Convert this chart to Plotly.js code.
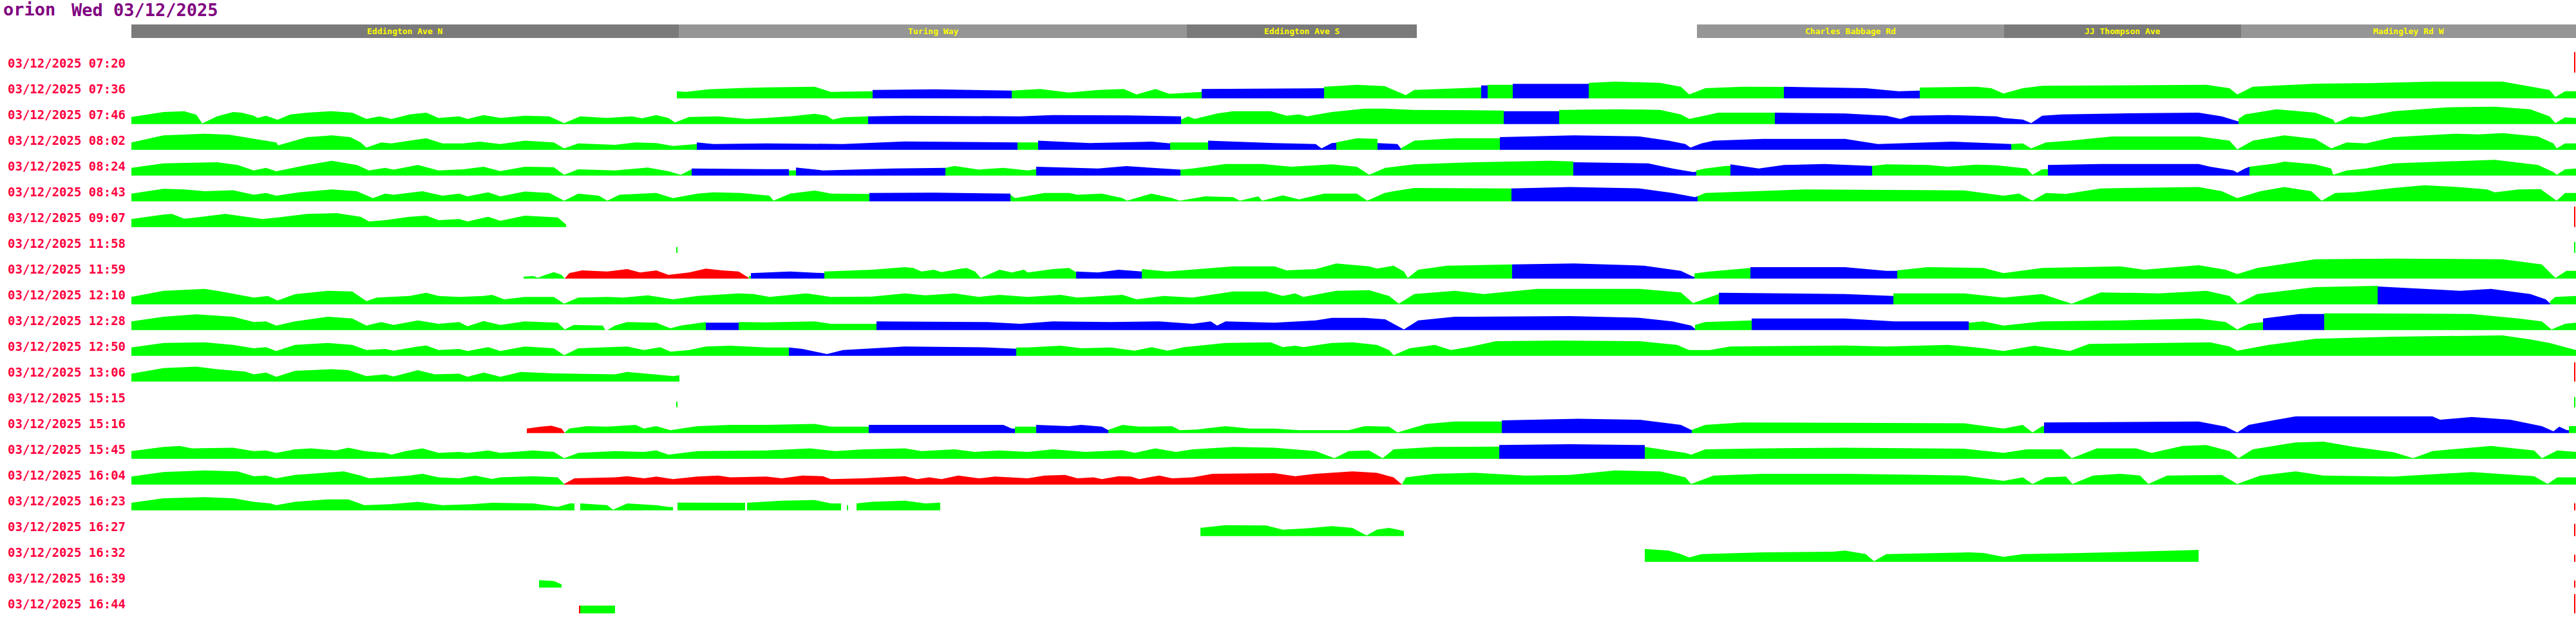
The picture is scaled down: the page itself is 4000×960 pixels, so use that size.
<!DOCTYPE html>
<html><head><meta charset="utf-8">
<script src="https://cdn.plot.ly/plotly-3.0.1.min.js"></script>
<style>html,body{margin:0;padding:0;background:#fff}</style>
</head><body><div id="chart"></div>
<script>
// ---- DATA ----
const titleHost = 'orion';
const titleDate = 'Wed 03/12/2025';
const rowTimes = ['07:20','07:36','07:46','08:02','08:24','08:43','09:07','11:58','11:59','12:10','12:28','12:50','13:06','15:15','15:16','15:45','16:04','16:23','16:27','16:32','16:39','16:44'];
const rowDate = '03/12/2025';

const streetNames = ['Eddington Ave N','Turing Way','Eddington Ave S','Charles Babbage Rd','JJ Thompson Ave','Madingley Rd W'];
const streetStart = [204,1054,1843,2635,3112,3480];
const streetEnd   = [1054,1843,2200,3112,3480,4000];

// each row: runs of [colour code, [position, height, position, height, ...]]
const row0720 = [];
const row0736 = [
 ['g',[1051,11,1065,10,1100,14,1150,16,1190,17,1265,18,1290,10,1355,11]],
 ['b',[1355,13,1450,14,1571,12]],
 ['g',[1571,12,1615,14.5,1660,9,1705,13,1745,14.5,1765,6,1794,14.5,1816,7,1866,10]],
 ['b',[1866,14.5,1950,15,2056,15.6]],
 ['g',[2056,18,2107,21,2150,19,2164,13,2183,5,2196,13,2291,16.7,2300,17]],
 ['b',[2300,20,2310,20]],
 ['g',[2310,21,2349,21]],
 ['b',[2349,22.5,2467,22.5]],
 ['g',[2467,24,2508,26,2578,24,2610,18,2623,6,2648,15.6,2706,18,2770,17.7]],
 ['b',[2770,18,2897,15.6,2948,11,2981,12]],
 ['g',[2981,16.7,3069,18,3092,15.6,3111,7.5,3141,15.6,3171,19.4,3292,20,3426,21,3462,15.6,3474,6,3498,18,3595,22.7,3686,23.7,3777,26,3886,26,3923,19.4,3959,13,3968,2,3983,11,4000,11]]
];
const row0746 = [
 ['g',[204,11,254,18.7,286,20,305,14.5,314,1,337,12,362,18.7,375,17.7,394,13,400,9.5,413,13,431,6.8,451,15,477,17.7,515,20,547,17.7,560,12,569,8,589,12,608,8,636,15,662,17.7,681,9.5,713,12,726,8,751,14,777,9.5,815,13,853,12,876,1.5,901,12,943,9.5,981,12,997,9,1019,14,1038,9.5,1048,2.5,1070,11,1115,12,1159,8,1190,9.5,1227,12,1265,16,1284,13,1293,7,1309,10.5,1348,12]],
 ['b',[1348,12,1405,13,1584,12,1635,14,1750,13.5,1834,12]],
 ['g',[1834,7,1845,12,1855,8,1890,16.5,1915,20,1973,20,1998,13,2017,15,2030,12,2068,18.7,2119,24,2150,24,2196,22,2335,21]],
 ['b',[2335,20,2421,20]],
 ['g',[2421,22,2515,23,2578,22,2610,15,2623,8,2642,12,2668,17.6,2756,17.6]],
 ['b',[2756,17.6,2865,16.5,2929,13,2951,8,2967,13,3025,14,3100,12,3111,9.5,3141,7,3154,1.5,3171,13,3202,15,3292,16.5,3414,17.7,3450,12,3476,4]],
 ['g',[3476,8,3486,15,3535,23,3595,17.7,3623,7,3626,1.5,3650,12,3668,10.5,3717,20,3800,26,3874,27,3929,23,3959,12,3968,1.5,3983,10.5,4000,9.5]]
];
const row0802 = [
 ['g',[204,11.5,254,22.4,318,25,356,23.5,394,17,413,14.3,429,11.5,432,7,458,14.3,477,19.7,515,22.4,544,19.7,560,11.5,569,3.5,592,11.5,608,10,636,14.3,662,18,687,10,719,10,745,12.6,777,9,815,14.3,860,11.5,876,2.3,898,10,955,7.8,987,11.5,1019,10.5,1045,6,1082,9]],
 ['b',[1082,11.5,1108,9,1190,10,1309,9,1405,13,1580,11.5]],
 ['g',[1580,11.5,1612,11.5]],
 ['b',[1612,14.3,1692,10.5,1788,12.6,1817,10]],
 ['g',[1817,11.5,1876,11.5]],
 ['b',[1876,14.3,1979,10.5,2043,9,2052,2.3,2068,10.5,2075,11]],
 ['g',[2075,11.5,2107,18,2132,17,2139,17]],
 ['b',[2139,10.5,2170,9,2175,2.3]],
 ['g',[2175,2.3,2196,14.3,2259,18,2329,18]],
 ['b',[2329,19.7,2444,22.4,2546,20.8,2591,14.3,2617,9,2625,3.5,2642,10,2661,14.3,2738,17,2865,17,2916,9,2993,11.5,3031,12.6,3100,10,3117,9,3123,9]],
 ['g',[3123,9,3141,10,3154,2.3,3177,11.5,3214,14.3,3280,20.8,3414,20.8,3462,14.3,3474,0.7,3498,14.3,3547,22.4,3595,17,3620,2.3,3644,11.5,3674,10,3717,19.7,3814,25,3850,24,3886,26,3941,20.8,3965,10,3970,2.3,3983,10,4000,10]]
];
const row0824 = [
 ['g',[204,12,254,19,337,20.7,369,16.4,394,8,413,12,429,6.6,477,16.4,515,22.9,554,16.4,573,8,598,12,611,9.3,649,16.4,681,8,719,9.8,751,13.6,777,7,815,13.6,860,13,876,1.2,898,9.8,955,8,1006,12.5,1038,6.6,1057,1.2,1074,9.8]],
 ['b',[1074,11,1190,10,1225,10]],
 ['g',[1225,8,1236,8]],
 ['b',[1236,12.5,1278,8,1386,11,1468,12]],
 ['g',[1468,12,1482,15,1520,9.3,1558,12,1596,8,1609,10]],
 ['b',[1609,13.6,1705,11,1749,14.6,1833,9.3]],
 ['g',[1833,9.3,1852,11,1903,18,1960,18,2005,13.6,2068,17.5,2107,13.6,2126,1.2,2151,12,2196,17.5,2291,20.7,2406,22.9,2443,22]],
 ['b',[2443,20.7,2559,19,2597,11,2629,5.5,2634,6]],
 ['g',[2634,8,2648,11,2680,15,2687,15]],
 ['b',[2687,17.5,2731,11,2770,16.4,2833,18,2907,15]],
 ['g',[2907,15,2929,17.5,2993,16.4,3025,13.6,3070,17,3100,16,3147,11,3156,1.2,3171,9.8,3180,10]],
 ['b',[3180,16.4,3262,18,3414,18,3432,13.6,3468,8,3474,4.4,3486,11,3493,13.6]],
 ['g',[3493,13.6,3535,19,3547,21.8,3595,17.5,3620,11,3623,1.2,3644,8,3674,11,3717,19,3874,24.5,3941,16.4,3965,5.5,3970,1.2,3983,9.8,4000,11]]
];
const row0843 = [
 ['g',[204,12,254,19.5,286,18.4,318,15.7,362,17.3,394,10.3,413,13,429,8.7,464,14,515,18.4,554,15.7,579,5,598,12,611,10.3,656,15.7,687,8.7,713,12,726,7.6,758,14,777,7.6,815,15.2,853,13,876,1,898,12,930,8.7,943,1,962,10.3,1019,13,1045,5,1083,12,1108,14,1150,13,1195,8.7,1201,1,1227,12,1265,16.8,1290,12,1350,11.4]],
 ['b',[1350,13,1450,13.5,1569,12]],
 ['g',[1569,10.3,1576,5,1622,13,1660,13,1673,10.3,1711,12,1743,5,1750,1,1788,12,1820,5,1832,1,1871,7.6,1915,6.5,1925,1,1954,7.6,1960,1,1992,9.2,2017,3,2056,12,2107,12,2123,1,2150,13,2164,15.7,2196,20.6,2347,20]],
 ['b',[2347,20,2438,22.2,2546,20,2597,13,2632,6.5,2636,8]],
 ['g',[2636,8,2648,13,2802,18.4,3050,17,3111,8.7,3135,12,3156,1,3177,13,3208,11.4,3262,20,3414,22.2,3450,15.7,3474,5,3510,15.7,3547,22.2,3589,15.7,3605,1,3626,13,3656,14,3717,20.6,3765,25,3820,22,3862,18.4,3874,14,3911,18.4,3945,19,3955,12,3970,1,3983,13,4000,13]]
];
const row0907 = [
 ['g',[204,12.4,254,19.4,267,20.5,286,13,305,15,350,20.5,381,16,407,12.4,432,15,477,20.5,522,21.6,560,16,573,8.6,598,10.7,636,16,662,17.8,681,10.7,713,12.4,726,8.6,758,16,777,9.6,815,17.8,866,15,876,7,879,4]]
];
const row1158 = [
 ['g',[1050,9,1052,9]]
];
const row1159 = [
 ['g',[813,3,828,4,835,1.2,847,5.6,860,10,872,5.6,877,0.5]],
 ['r',[877,0.5,884,8.4,904,12.7,943,11,974,14.8,994,9.4,1019,12.7,1038,5.6,1070,9.4,1096,15.4,1121,12.7,1147,11,1159,3,1163,1]],
 ['g',[1163,4,1166,4]],
 ['b',[1166,8.4,1227,11,1280,8.4]],
 ['g',[1280,11,1354,13.8,1405,17.6,1418,16.5,1431,11,1450,13.8,1462,10,1488,14.8,1501,16.5,1514,11,1523,1,1552,13.8,1571,9.4,1590,13.8,1596,9.4,1635,14.8,1660,16.5,1671,10]],
 ['b',[1671,11,1705,9.4,1737,13.8,1773,11]],
 ['g',[1773,14.8,1813,11,1852,13.8,1915,19,1979,19,1998,12.7,2043,14.8,2075,23.5,2126,19,2138,15.4,2164,20,2180,11,2186,1,2202,13.8,2247,20,2348,21.9]],
 ['b',[2348,21.9,2444,23.5,2553,20,2610,12,2629,3,2631,3]],
 ['g',[2631,8,2655,11,2718,16.5]],
 ['b',[2718,17.6,2865,17.6,2929,12,2946,12]],
 ['g',[2946,12.7,2993,17.6,3080,16.5,3111,8.4,3171,16.5,3292,19,3329,13.8,3414,20.8,3456,13.8,3474,7,3505,16.5,3595,30,3717,31,3886,30,3947,21.9,3968,1,3985,12,4000,12]]
];
const row1210 = [
 ['g',[204,11.5,254,21,318,24,343,20,381,13,394,10.4,416,13,431,6,458,15.8,509,21,547,20,569,5,585,10.4,636,13,662,18,681,13,713,11.5,751,13,764,14.6,783,7.7,815,11.5,860,11.5,876,1,898,10.4,943,11.5,968,10.4,1006,14,1045,7.7,1083,13,1147,17,1170,16,1195,11.5,1252,17,1290,11.5,1354,12,1405,17,1437,14,1482,17,1520,11.5,1552,14.6,1596,11.5,1647,14.6,1673,10.4,1743,14.6,1765,7.7,1807,13,1852,10.4,1915,20,1966,20,1992,13,2011,17,2024,11.5,2075,21,2126,22,2138,18.5,2157,13,2172,1,2196,16,2259,21,2304,16,2387,24,2546,24,2610,18.5,2629,2,2669,16]],
 ['b',[2669,18,2865,16,2940,13]],
 ['g',[2940,17,3050,17,3111,10.4,3171,16,3217,1,3262,18.5,3353,17,3426,21,3462,13,3475,1,3505,16,3595,26.6,3692,28.7]],
 ['b',[3692,27.6,3820,21,3868,24,3929,16,3953,7.7,3959,2,3960,2]],
 ['g',[3960,5,3968,11.5,4000,13]]
];
const row1228 = [
 ['g',[204,13.5,254,20.6,305,24.4,362,20.6,394,12.5,413,13.5,429,7,458,13.5,509,20.6,547,18,569,7,592,12.5,611,8,649,15,681,9.8,713,12.5,726,6,751,14,777,8,815,13.5,866,11.4,877,1,891,8,936,7,940,0,943,0,955,7,974,12.5,1019,11.4,1041,2.7,1057,7,1096,12.5]],
 ['b',[1096,11.4,1147,11.4]],
 ['g',[1147,12.5,1190,12,1265,13.5,1290,9.8,1361,9.8]],
 ['b',[1361,13.5,1533,12.5,1584,9.8,1635,13.5,1724,12.5,1800,13.5,1852,9.8,1880,13.5,1890,7,1903,13.5,1979,11.4,2043,15,2068,19,2119,19,2151,16.8,2180,1,2202,15,2259,20.6,2438,21.7,2546,19,2597,13.5,2626,7,2632,2]],
 ['g',[2632,8,2648,12.5,2706,15,2720,15]],
 ['b',[2720,18,2865,18,2942,13.5,3057,13.5]],
 ['g',[3057,11.4,3080,13.5,3111,7,3171,13.5,3292,15,3414,18,3456,12.5,3474,1,3492,9.8,3514,12.5]],
 ['b',[3514,18,3571,25,3609,25]],
 ['g',[3609,26,3656,26,3838,25,3911,18,3947,13.5,3962,1,3983,9.8,4000,11.4]]
];
const row1250 = [
 ['g',[204,13,254,20,318,21,362,17,394,11.8,413,13.4,429,7.5,458,17,509,20,547,17,569,9,598,10.7,611,8,649,14.5,662,16,681,9,713,10.7,726,7.5,758,13.4,777,7.5,815,14.5,860,11.8,876,1,898,11.8,974,14.5,1000,9,1025,13.4,1041,6.4,1070,9,1096,14.5,1134,15.6,1190,13,1225,13]],
 ['b',[1225,13,1246,10.7,1284,2.6,1309,9,1373,13,1405,14.5,1533,13,1571,10.7,1578,11]],
 ['g',[1578,13,1596,13,1647,15.6,1679,11.8,1724,13,1762,8,1788,13.4,1813,8,1839,13.4,1903,20,1973,21,1992,13.4,2011,15.6,2024,13.4,2068,20,2100,21,2138,17,2157,9,2164,1,2189,11.8,2228,17,2253,9,2285,14.5,2323,22.7,2419,23.8,2546,22.7,2604,17,2623,9,2655,9,2687,14.5,2865,16,2929,14.5,3025,17,3080,11.8,3111,7.5,3159,15.6,3214,7.5,3244,18.4,3353,20,3432,21,3462,14.5,3474,8,3523,17,3595,26.4,3717,29.6,3886,31.8,3929,25.4,3959,20,4000,9]]
];
const row1306 = [
 ['g',[204,12.2,254,20.9,305,23.2,337,19.3,381,15.5,394,11.2,413,13.9,429,7.4,458,16.6,515,19.3,541,17.7,569,8.5,598,11.2,611,8,636,13.9,649,17.7,675,11.2,713,12.2,726,7.4,751,13.9,777,7.4,809,15,860,12.7,955,11.2,974,15,1019,11.2,1045,8.5,1055,9.6]]
];
const row1515 = [
 ['g',[1050,9,1052,9]]
];
const row1516 = [
 ['r',[818,7,840,9.9,856,11.5,872,7,877,1]],
 ['g',[877,1,884,7,911,10.8,943,9.9,987,12.6,1000,7,1019,10.8,1041,4.4,1057,7,1083,10.8,1134,12.6,1190,12.6,1265,14.2,1290,9.9,1349,9.9]],
 ['b',[1349,12.6,1558,12.6,1571,7,1576,7]],
 ['g',[1576,9.9,1609,9.9]],
 ['b',[1609,12.6,1660,10.8,1679,12.6,1711,9.9,1721,4.4]],
 ['g',[1721,5,1743,12.6,1769,9.9,1820,10.8,1832,4.4,1858,5.4,1903,10.8,1941,7,1979,7,2017,4.4,2094,4.4,2119,10.8,2126,10.8,2157,9.9,2170,1,2215,14.2,2259,18,2332,18]],
 ['b',[2332,19.6,2451,22.3,2546,20.7,2610,12.6,2627,4.4]],
 ['g',[2627,5,2648,12.6,2706,16.4,3050,15.3,3111,7,3141,12.6,3156,1,3171,10.8,3174,10.8]],
 ['b',[3174,16.4,3414,18,3456,9.9,3474,1,3492,12.6,3535,20.7,3565,26,3777,26,3789,20.7,3838,25,3898,20.7,3947,10.8,3965,2.8,3974,9.9,3986,4.4,3989,4.4]],
 ['g',[3989,10.8,4000,10.8]]
];
const row1545 = [
 ['g',[204,12,254,18.4,279,20,298,16.3,362,17.3,394,12,413,13,429,9.2,458,14.6,483,16.3,502,14.6,522,13,541,17.3,566,12,598,9.2,608,6.5,630,12,656,16.3,681,9.2,713,10.8,726,9.2,758,13,777,9.2,828,13,860,10.8,876,1,898,9.2,955,12,1000,10.8,1019,13,1038,6.5,1083,12,1190,13,1258,16.3,1297,12,1341,14.6,1405,16.3,1431,12,1482,14.6,1514,10.8,1552,13,1596,10.8,1635,14.6,1660,13,1686,10.8,1743,13.5,1762,9.2,1794,16.3,1826,10.8,1852,14.6,1915,18.4,1979,17.3,2043,12,2072,1,2094,12,2126,13,2147,1,2164,14.6,2228,18.4,2328,19]],
 ['b',[2328,21.4,2438,22.8,2554,21.4]],
 ['g',[2554,18.4,2617,9.2,2626,6.5,2648,14.6,2738,16.3,2865,17.3,2993,16.3,3050,15.7,3111,9.2,3147,14.6,3202,14.6,3217,1,3256,16.3,3317,16.3,3341,9.2,3389,20,3426,21.4,3462,12,3476,1,3498,14.6,3565,25.5,3608,26.6,3656,18.4,3717,10.3,3747,1,3777,12,3868,20,3935,13,3947,1,3971,13,4000,10.8]]
];
const row1604 = [
 ['g',[204,12.4,254,19.4,318,22,369,20.5,394,12.9,413,14,429,9.6,458,15,509,18.3,534,20.5,560,14,573,9.6,598,11.3,636,14,656,16.7,681,11.3,713,9.6,738,14,764,8.6,777,11.3,828,12.9,866,11.3,876,1]],
 ['r',[876,1,892,9.6,955,11.3,974,12.9,1000,9.6,1019,12.4,1045,8.5,1083,12.4,1115,14,1134,11.3,1190,12.4,1214,9.6,1246,14,1278,12.9,1290,8.5,1341,9.6,1405,12.9,1424,8.5,1443,11.3,1462,8.5,1488,14,1520,9.6,1545,12.4,1596,9.6,1622,14,1654,15,1673,9.6,1698,11.3,1711,8.5,1737,12.9,1756,12.4,1769,8.5,1800,14,1820,9.6,1852,11.3,1883,16.7,1979,17.7,2011,12.9,2043,16.7,2100,20.5,2138,18.3,2164,11.3,2177,0.5]],
 ['g',[2177,0.5,2183,11.3,2228,16.7,2291,18.3,2368,14,2438,15,2508,22,2578,20.5,2617,11.3,2626,1,2661,14,2738,16.7,2865,16.7,2993,15,3050,14,3111,5.8,3141,11.3,3156,1,3177,11.3,3208,12.4,3218,1,3250,14,3292,16.7,3323,14,3336,1,3365,14,3450,15,3474,1,3510,14,3565,20.5,3608,14,3717,12.4,3838,19.4,3935,12.9,3956,1,3971,11.3,4000,11.3]]
];
const row1623 = [
 ['g',[204,11.7,254,18.6,318,20.4,362,18.6,394,13.3,420,10.6,429,7.9,458,13.3,509,17,541,17,566,7.9,605,9.5,649,13.3,687,7.9,732,9.5,764,11.7,828,10.6,866,5.2,885,10.6,892,10.6]],
 ['g',[901,10.6,943,7.9,952,1,974,10.6,1019,7.9,1038,5.2,1045,5.2]],
 ['g',[1052,12,1147,11.7,1157,11.7]],
 ['g',[1160,11.7,1214,14.9,1265,16,1290,10.6,1306,10.6]],
 ['g',[1315,8,1317,8]],
 ['g',[1330,10.6,1354,13.3,1405,14.9,1437,10.6,1460,12]]
];
const row1627 = [
 ['g',[1864,12.7,1903,17,1966,16.5,1992,10,2024,11.6,2068,15.4,2100,12.7,2122,1,2138,10,2157,12.7,2176,8.4,2180,8]]
];
const row1632 = [
 ['g',[2554,20,2591,17.5,2610,12,2623,6.6,2642,12,2738,14.7,2846,15.8,2865,17.5,2897,12,2910,1,2929,12,3057,14.7,3080,13.6,3111,7.7,3141,12,3232,13.6,3323,15.8,3408,18.5,3414,18.5]]
];
const row1639 = [
 ['g',[837,11.4,860,10.3,869,6,872,5]]
];
const row1644 = [
 ['r',[899,12,901,12]],
 ['g',[901,12,955,12]]
];
const rows = [row0720,row0736,row0746,row0802,row0824,row0843,row0907,row1158,row1159,row1210,row1228,row1250,row1306,row1515,row1516,row1545,row1604,row1623,row1627,row1632,row1639,row1644];

// status marks at the end of the route: [row, height, colour code]
const endMarks = [[0,32,'r'],[6,32,'r'],[7,17,'g'],[12,30,'r'],[13,16,'g'],[17,11,'r'],[18,19,'r'],[19,11,'r'],[20,11,'r'],[21,30,'r']];
const endMarkPos = 3998;

// ---- DRAWING ----
const COLORS = {g:'#00ff00', b:'#0000ff', r:'#ff0000'};
const PX_PER_ROW = 40;
const traces = [];
rows.forEach((runs, i) => {
  runs.forEach(([c, pts]) => {
    const xs = [pts[0]], ys = [i];
    for (let k = 0; k < pts.length; k += 2) { xs.push(pts[k]); ys.push(i - pts[k+1] / PX_PER_ROW); }
    xs.push(pts[pts.length - 2]); ys.push(i);
    traces.push({type:'scatter', mode:'lines', x:xs, y:ys, fill:'toself', fillcolor:COLORS[c],
      line:{width:0, color:COLORS[c]}, hoverinfo:'skip', showlegend:false});
  });
});
endMarks.forEach(([i, h, c]) => {
  traces.push({type:'scatter', mode:'lines', x:[endMarkPos, endMarkPos], y:[i, i - h / PX_PER_ROW],
    line:{width:2, color:COLORS[c]}, hoverinfo:'skip', showlegend:false});
});

const HDR_Y0 = (38 - 112.7) / PX_PER_ROW, HDR_Y1 = (59 - 112.7) / PX_PER_ROW;
const shapes = streetNames.map((n, k) => ({type:'rect', xref:'x', yref:'y', x0:streetStart[k], x1:streetEnd[k],
  y0:HDR_Y0, y1:HDR_Y1, fillcolor: k % 2 === 0 ? '#7a7a7a' : '#969696', line:{width:0}, layer:'below'}));

const annotations = [];
streetNames.forEach((n, k) => annotations.push({xref:'x', yref:'y', x:(streetStart[k] + streetEnd[k]) / 2,
  y:(HDR_Y0 + HDR_Y1) / 2, text:n, showarrow:false, xanchor:'center', yanchor:'middle',
  font:{family:'DejaVu Sans Mono', size:13, color:'#ffff00', weight:'bold'}}));
rowTimes.forEach((t, i) => annotations.push({xref:'x', yref:'y', x:10, y:i - 15 / PX_PER_ROW,
  text:rowDate + ' ' + t, showarrow:false, xanchor:'left', yanchor:'middle',
  font:{family:'DejaVu Sans Mono', size:19, color:'#ff0040', weight:'bold'}}));
annotations.push({xref:'paper', yref:'paper', x:109 / 4000, y:1 - 15 / 960, text:titleDate, showarrow:false,
  xanchor:'left', yanchor:'middle', font:{family:'DejaVu Sans Mono', size:27, color:'#800080', weight:'bold'}});

const layout = {
  width:4000, height:960, margin:{l:0, r:0, t:0, b:0}, paper_bgcolor:'#ffffff', plot_bgcolor:'#ffffff',
  title:{text:titleHost, x:5 / 4000, xanchor:'left', xref:'paper', y:1 - 15 / 960, yanchor:'middle',
    font:{family:'DejaVu Sans Mono', size:27, color:'#800080', weight:'bold'}},
  xaxis:{range:[0, 4000], visible:false, fixedrange:true},
  yaxis:{range:[(960 - 112.7) / PX_PER_ROW, -112.7 / PX_PER_ROW], visible:false, fixedrange:true},
  showlegend:false, shapes:shapes, annotations:annotations
};
Plotly.newPlot('chart', traces, layout, {displayModeBar:false, staticPlot:true});
</script></body></html>
